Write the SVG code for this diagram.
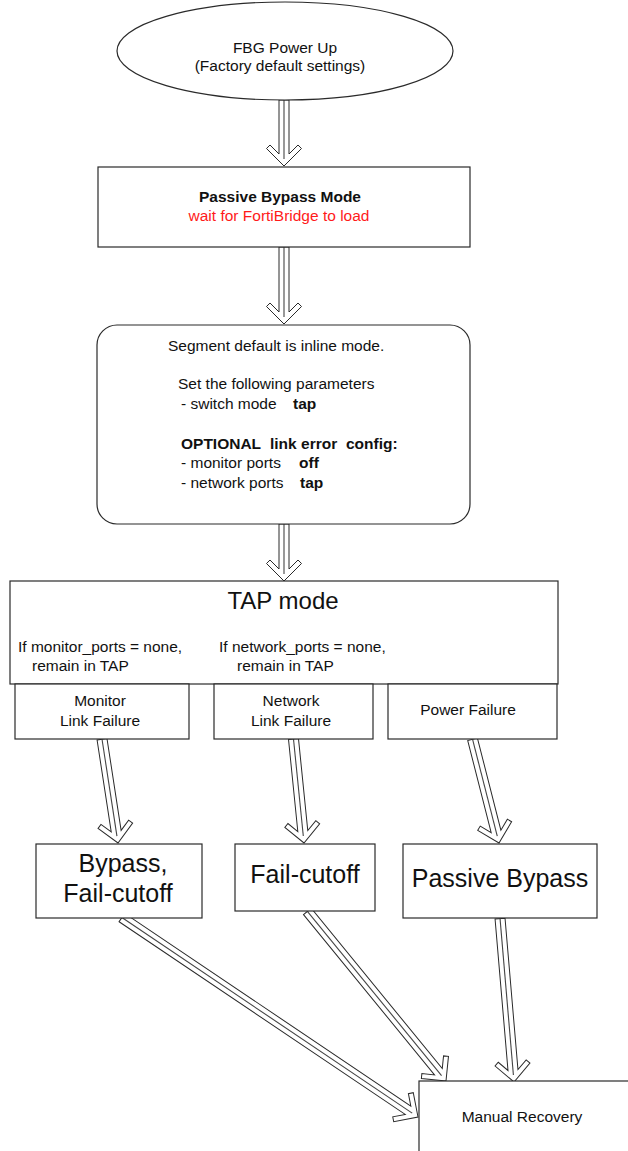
<svg xmlns="http://www.w3.org/2000/svg" width="628" height="1151" viewBox="0 0 628 1151">
<style>
text{font-family:"Liberation Sans",Arial,sans-serif;font-size:15.5px;fill:#111}
.b{font-weight:bold}
.c{text-anchor:middle}
.big{font-size:25px}
.red{fill:#ff1a1a}
.box{fill:#fff;stroke:#2a2a2a;stroke-width:1.2}
.arr{fill:#fff;stroke:#2a2a2a;stroke-width:1}
.mid{fill:none;stroke:#444;stroke-width:1.1}
</style>
<rect width="628" height="1151" fill="#fff"/>
<g id="connectors">
<g transform="translate(284,166)"><path class="arr" d="M-5,-66 L-5,-12 L-14,-21 L-17.5,-17.5 L0,0 L17.5,-17.5 L14,-21 L5,-12 L5,-66 Z"/><path class="mid" d="M0,-66 L0,-7"/></g>
<g transform="translate(284,324)"><path class="arr" d="M-5,-77 L-5,-12 L-14,-21 L-17.5,-17.5 L0,0 L17.5,-17.5 L14,-21 L5,-12 L5,-77 Z"/><path class="mid" d="M0,-77 L0,-7"/></g>
<g transform="translate(284,581)"><path class="arr" d="M-5,-57 L-5,-12 L-14,-21 L-17.5,-17.5 L0,0 L17.5,-17.5 L14,-21 L5,-12 L5,-57 Z"/><path class="mid" d="M0,-57 L0,-7"/></g>
<g transform="translate(118,843) rotate(-8.75)"><path class="arr" d="M-5,-105 L-5,-12 L-14,-21 L-17.5,-17.5 L0,0 L17.5,-17.5 L14,-21 L5,-12 L5,-105 Z"/><path class="mid" d="M0,-105 L0,-7"/></g>
<g transform="translate(304,843) rotate(-5.77)"><path class="arr" d="M-5,-104.5 L-5,-12 L-14,-21 L-17.5,-17.5 L0,0 L17.5,-17.5 L14,-21 L5,-12 L5,-104.5 Z"/><path class="mid" d="M0,-104.5 L0,-7"/></g>
<g transform="translate(499,843) rotate(-14.3)"><path class="arr" d="M-5,-107 L-5,-12 L-14,-21 L-17.5,-17.5 L0,0 L17.5,-17.5 L14,-21 L5,-12 L5,-107 Z"/><path class="mid" d="M0,-107 L0,-7"/></g>
<g transform="translate(418,1117) rotate(-56.04)"><path class="arr" d="M-5,-357 L-5,-12 L-14,-21 L-17.5,-17.5 L0,0 L17.5,-17.5 L14,-21 L5,-12 L5,-357 Z"/><path class="mid" d="M0,-357 L0,-7"/></g>
<g transform="translate(446,1081) rotate(-39.27)"><path class="arr" d="M-5,-219 L-5,-12 L-14,-21 L-17.5,-17.5 L0,0 L17.5,-17.5 L14,-21 L5,-12 L5,-219 Z"/><path class="mid" d="M0,-219 L0,-7"/></g>
<g transform="translate(514,1082) rotate(-4.88)"><path class="arr" d="M-5,-164 L-5,-12 L-14,-21 L-17.5,-17.5 L0,0 L17.5,-17.5 L14,-21 L5,-12 L5,-164 Z"/><path class="mid" d="M0,-164 L0,-7"/></g>
</g>
<g id="power-up">
<ellipse class="box" cx="285" cy="51" rx="168" ry="49"/>
<text class="c" x="285" y="53">FBG Power Up</text>
<text class="c" x="280" y="71">(Factory default settings)</text>
</g>
<g id="passive-bypass-mode">
<rect class="box" x="98" y="167" width="372" height="80"/>
<text class="c b" x="280" y="202">Passive Bypass Mode</text>
<text class="c red" x="279" y="221">wait for FortiBridge to load</text>
</g>
<g id="segment-config">
<rect class="box" x="97" y="325" width="373" height="199" rx="20" ry="20"/>
<text x="168" y="351">Segment default is inline mode.</text>
<text x="178" y="389">Set the following parameters</text>
<text x="181" y="409">- switch mode</text>
<text class="b" x="293" y="409">tap</text>
<text class="b" x="181" y="449"><tspan x="181">OPTIONAL</tspan><tspan x="270">link error</tspan><tspan x="346">config:</tspan></text>
<text x="181" y="468">- monitor ports</text>
<text class="b" x="299" y="468">off</text>
<text x="181" y="488">- network ports</text>
<text class="b" x="300" y="488">tap</text>
</g>
<g id="tap-mode">
<rect class="box" x="10" y="581" width="548" height="103"/>
<text class="c" x="283" y="609" style="font-size:24px">TAP mode</text>
<text x="18" y="652">If monitor_ports = none,</text>
<text x="32" y="671">remain in TAP</text>
<text x="219" y="652">If network_ports = none,</text>
<text x="237" y="671">remain in TAP</text>
</g>
<g id="monitor-link-failure">
<rect class="box" x="15" y="684" width="174" height="55"/>
<text class="c" x="100" y="706">Monitor</text>
<text class="c" x="100" y="726">Link Failure</text>
</g>
<g id="network-link-failure">
<rect class="box" x="214" y="684" width="159" height="55"/>
<text class="c" x="291" y="706">Network</text>
<text class="c" x="291" y="726">Link Failure</text>
</g>
<g id="power-failure">
<rect class="box" x="388" y="684" width="169" height="55"/>
<text class="c" x="468" y="715">Power Failure</text>
</g>
<g id="bypass-fail-cutoff">
<rect class="box" x="36" y="844" width="166" height="74"/>
<text class="c big" x="123" y="872">Bypass,</text>
<text class="c big" x="118" y="902">Fail-cutoff</text>
</g>
<g id="fail-cutoff">
<rect class="box" x="235" y="844" width="140" height="67"/>
<text class="c big" x="305" y="883">Fail-cutoff</text>
</g>
<g id="passive-bypass">
<rect class="box" x="403" y="844" width="194" height="74"/>
<text class="c big" x="500" y="887">Passive Bypass</text>
</g>
<g id="manual-recovery">
<rect class="box" x="419" y="1081" width="260" height="120"/>
<text class="c" x="522" y="1122">Manual Recovery</text>
</g>
</svg>
